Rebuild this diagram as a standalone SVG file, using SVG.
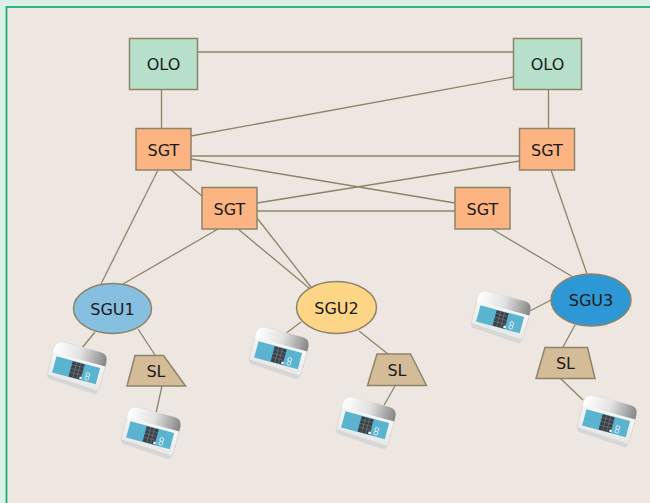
<svg xmlns="http://www.w3.org/2000/svg" width="650" height="503" viewBox="0 0 650 503">
  <style>
    .link { stroke: #8c8468; stroke-width: 1.3; fill: none; }
    .box { stroke: #8c8468; stroke-width: 1.5; }
    .olo { fill: #b7e0cb; }
    .sgt { fill: #fbb482; }
    .sl { fill: #d4bc98; }
    .lbl { font-family: "DejaVu Sans", Verdana, sans-serif; font-size: 16px; fill: #1a1a1a; text-anchor: middle; dominant-baseline: central; }
  </style>
  <defs>
    <linearGradient id="lid" x1="0" y1="0" x2="1" y2="0">
      <stop offset="0" stop-color="#ffffff"/>
      <stop offset="0.5" stop-color="#e2e2e2"/>
      <stop offset="1" stop-color="#858585"/>
    </linearGradient>
    <linearGradient id="face" x1="0" y1="0" x2="0" y2="1">
      <stop offset="0" stop-color="#fcfcfc"/>
      <stop offset="1" stop-color="#e6e6e6"/>
    </linearGradient>
    <!-- terminal device icon, drawn around its own centre -->
    <g id="device">
      <path d="M-24 -10 Q-24 -18 -16 -18 L17 -18 Q24 -18 24 -10 L24 14 L22 19 L-22 16 L-24 13 Z" fill="url(#face)" stroke="#d4d4d4" stroke-width="0.6"/>
      <path d="M-24 -10 Q-24 -18 -16 -18 L17 -18 Q24 -18 24 -10 L24 -7 L-24 -7 Z" fill="url(#lid)"/>
      <rect x="-20" y="-4.5" width="40" height="15" fill="#5ab4cf"/>
      <rect x="-5" y="-4" width="11" height="14" fill="#3b4146"/>
      <path d="M-1.3 -4 V10 M2.3 -4 V10" stroke="#717a80" stroke-width="0.6"/>
      <path d="M-5 -1 H6 M-5 2.5 H6 M-5 6 H6" stroke="#717a80" stroke-width="0.5"/>
      <rect x="4.5" y="7.5" width="2" height="2" fill="#ffffff"/>
      <circle cx="11" cy="4" r="1.7" fill="none" stroke="#e6eef1" stroke-width="0.8"/>
      <circle cx="11" cy="7.3" r="1.7" fill="none" stroke="#e6eef1" stroke-width="0.8"/>
      <path d="M-23.5 13 L23.5 15.5 L22 19 L-22 16.5 Z" fill="#d6d6d6"/>
    </g>
  </defs>

  <!-- page background and frame -->
  <rect x="0" y="0" width="650" height="503" fill="#dcefe6"/>
  <rect x="6.5" y="7" width="700" height="600" fill="#eee6e1" stroke="#1fae78" stroke-width="1.8"/>

  <g id="connectors">
    <path class="link" d="M197.5 52 H513.5"/>
    <path class="link" d="M161.5 89.5 V128.5"/>
    <path class="link" d="M548.5 89.5 V128.5"/>
    <path class="link" d="M513.5 77 L191 136"/>
    <path class="link" d="M191 156 H519.5"/>
    <path class="link" d="M191 159 L455 203"/>
    <path class="link" d="M519.5 161 L257 203"/>
    <path class="link" d="M257 211 H455"/>
    <path class="link" d="M171 170 L202 196"/>
    <path class="link" d="M158 170 L101 284"/>
    <path class="link" d="M218 229 L123 284"/>
    <path class="link" d="M238 229 L309 288"/>
    <path class="link" d="M257 218 L311 287"/>
    <path class="link" d="M492 229 L573 277"/>
    <path class="link" d="M551 170 L587 274"/>
    <path class="link" d="M95 332 L82 348"/>
    <path class="link" d="M138 329 L155 355"/>
    <path class="link" d="M162 386 L156 413"/>
    <path class="link" d="M301 322 L285 334"/>
    <path class="link" d="M359 331 L388 354"/>
    <path class="link" d="M395 386 L383 407"/>
    <path class="link" d="M551 300 L530 311"/>
    <path class="link" d="M575 325 L563 347"/>
    <path class="link" d="M560 378 L583 400"/>
  </g>

  <g id="olo-left">
    <rect class="box olo" x="129.5" y="38.5" width="68" height="51"/>
    <text class="lbl" x="163.5" y="64">OLO</text>
  </g>
  <g id="olo-right">
    <rect class="box olo" x="513.5" y="38.5" width="68" height="51"/>
    <text class="lbl" x="547.5" y="64">OLO</text>
  </g>

  <g id="sgt-1">
    <rect class="box sgt" x="136" y="128.5" width="55" height="41.5"/>
    <text class="lbl" x="163.5" y="150">SGT</text>
  </g>
  <g id="sgt-2">
    <rect class="box sgt" x="202" y="187.5" width="55" height="41.5"/>
    <text class="lbl" x="229.5" y="209">SGT</text>
  </g>
  <g id="sgt-3">
    <rect class="box sgt" x="519.5" y="128.5" width="55" height="41.5"/>
    <text class="lbl" x="547" y="150">SGT</text>
  </g>
  <g id="sgt-4">
    <rect class="box sgt" x="455" y="187.5" width="55" height="41.5"/>
    <text class="lbl" x="482.5" y="209">SGT</text>
  </g>

  <g id="sgu-1">
    <ellipse class="box" cx="112.5" cy="308.5" rx="39" ry="25" fill="#86bfdf"/>
    <text class="lbl" x="112.5" y="309">SGU1</text>
  </g>
  <g id="sgu-2">
    <ellipse class="box" cx="336.5" cy="307.5" rx="40" ry="26" fill="#fdd587"/>
    <text class="lbl" x="336.5" y="308">SGU2</text>
  </g>
  <g id="sgu-3">
    <ellipse class="box" cx="591" cy="300" rx="40" ry="26" fill="#2e97d5"/>
    <text class="lbl" x="591" y="300.5">SGU3</text>
  </g>

  <g id="sl-1">
    <polygon class="box sl" points="135,355.5 163.5,355.5 185.5,386 127,386"/>
    <text class="lbl" x="156" y="371.5">SL</text>
  </g>
  <g id="sl-2">
    <polygon class="box sl" points="377,354 410.5,354 426.5,385.5 367.5,385.5"/>
    <text class="lbl" x="397" y="370.5">SL</text>
  </g>
  <g id="sl-3">
    <polygon class="box sl" points="545,347.5 587.5,347.5 595,378.5 536,378.5"/>
    <text class="lbl" x="565.5" y="363.5">SL</text>
  </g>

  <g id="device-1"><use href="#device" transform="translate(77 367) rotate(15) scale(1.13)"/></g>
  <g id="device-2"><use href="#device" transform="translate(151 432) rotate(15) scale(1.13)"/></g>
  <g id="device-3"><use href="#device" transform="translate(279 352) rotate(15) scale(1.13)"/></g>
  <g id="device-4"><use href="#device" transform="translate(366 422) rotate(15) scale(1.13)"/></g>
  <g id="device-5"><use href="#device" transform="translate(501 316) rotate(15) scale(1.13)"/></g>
  <g id="device-6"><use href="#device" transform="translate(607 420) rotate(15) scale(1.13)"/></g>
</svg>
